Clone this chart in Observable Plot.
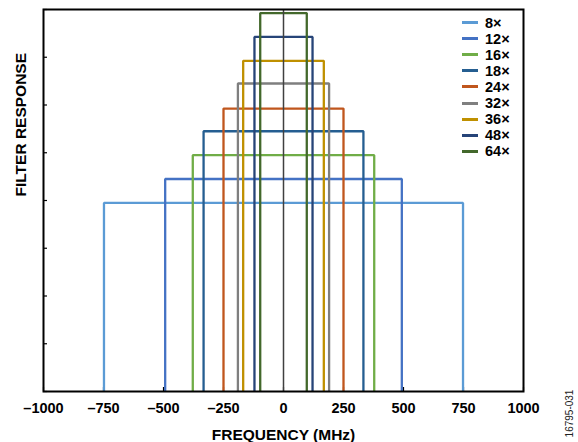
<!DOCTYPE html>
<html>
<head>
<meta charset="utf-8">
<script src="https://cdn.jsdelivr.net/npm/d3@7"></script>
<script src="https://cdn.jsdelivr.net/npm/@observablehq/plot@0.6"></script>
<style>
  body { margin: 0; background: #fff; }
  #wrap { position: relative; width: 578px; height: 442px; font-family: "Liberation Sans", Arial, sans-serif; }
  #legend { position: absolute; left: 462px; top: 14.5px; }
  .row { display: flex; align-items: center; height: 16.1px; }
  .sw { width: 16px; height: 3px; margin-right: 7px; }
  .lab { font-weight: bold; font-size: 14.5px; color: #000; line-height: 16px; }
  #fid { position: absolute; left: 544px; top: 408px; width: 50px; text-align: center; font-size: 10px; color: #222; transform: rotate(-90deg); transform-origin: center; white-space: nowrap; }
</style>
</head>
<body>
<div id="wrap"></div>
<script>
// Data
const series = ["8×", "12×", "16×", "18×", "24×", "32×", "36×", "48×", "64×"];
const halfWidthMHz = [748, 493, 378, 333, 250, 190, 168, 121, 97];
const level = [7.9, 8.9, 9.9, 10.9, 11.85, 12.9, 13.85, 14.85, 15.85];
const colors = ["#5B9BD5", "#4472C4", "#70AD47", "#255E91", "#C0561D", "#7F7F7F", "#BF9000", "#264478", "#43682B"];
const xTicks = [-1000, -750, -500, -250, 0, 250, 500, 750, 1000];
const yTicks = [0, 2, 4, 6, 8, 10, 12, 14, 16];

const pts = series.flatMap((s, i) => [
  {s, f: -halfWidthMHz[i], r: 0},
  {s, f: -halfWidthMHz[i], r: level[i]},
  {s, f: halfWidthMHz[i], r: level[i]},
  {s, f: halfWidthMHz[i], r: 0}
]);

const fmt = d => d < 0 ? "\u2013" + Math.abs(d) : String(d);

const chart = Plot.plot({
  width: 578,
  height: 442,
  marginLeft: 43,
  marginRight: 55,
  marginTop: 9,
  marginBottom: 51,
  style: {fontFamily: '"Liberation Sans", Arial, sans-serif', background: "#fff", color: "#000"},
  x: {domain: [-1000, 1000]},
  y: {domain: [0, 16]},
  color: {domain: series, range: colors},
  marks: [
    Plot.axisX(xTicks, {tickSize: 4, dy: -4, tickFormat: () => "", label: null, stroke: "#000", strokeWidth: 1.2}),
    Plot.line(pts, {x: "f", y: "r", z: "s", stroke: "s", strokeWidth: 2.3, strokeLinejoin: "miter", strokeLinecap: "butt"}),
    Plot.ruleX([0], {stroke: "#404040", strokeWidth: 1.5}),
    Plot.axisY(yTicks, {tickSize: 4, dx: 4, tickFormat: () => "", label: null, stroke: "#000", strokeWidth: 1.2}),
    Plot.axisX(xTicks, {tickSize: 0, tickPadding: 11, tickFormat: fmt, fontSize: 14.5, fontWeight: "bold", label: null, fill: "#000"}),
    Plot.text(["FREQUENCY (MHz)"], {frameAnchor: "bottom", dy: 43.5, lineAnchor: "middle", fontSize: 15.5, fontWeight: "bold", fill: "#000"}),
    Plot.text(["FILTER RESPONSE"], {frameAnchor: "left", dx: -22, dy: -4, rotate: -90, lineAnchor: "middle", fontSize: 15.5, fontWeight: "bold", fill: "#000"}),
    Plot.frame({stroke: "#000", strokeWidth: 2})
  ]
});

const wrap = document.getElementById("wrap");
wrap.appendChild(chart);

const legend = document.createElement("div");
legend.id = "legend";
series.forEach((s, i) => {
  const row = document.createElement("div");
  row.className = "row";
  const sw = document.createElement("div");
  sw.className = "sw";
  sw.style.background = colors[i];
  const lab = document.createElement("span");
  lab.className = "lab";
  lab.textContent = s;
  row.appendChild(sw);
  row.appendChild(lab);
  legend.appendChild(row);
});
wrap.appendChild(legend);

const fid = document.createElement("div");
fid.id = "fid";
fid.textContent = "16795-031";
wrap.appendChild(fid);
</script>
</body>
</html>
